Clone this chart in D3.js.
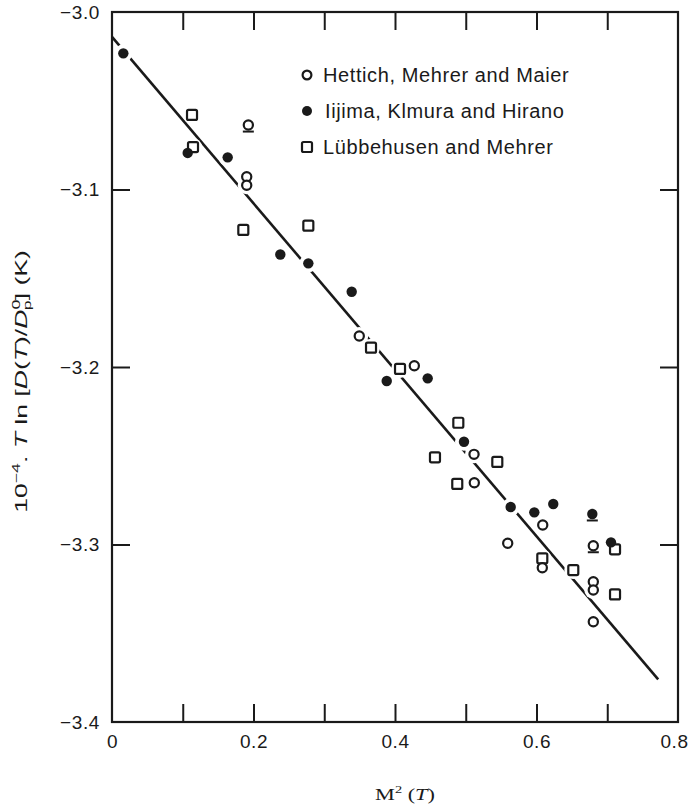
<!DOCTYPE html>
<html>
<head>
<meta charset="utf-8">
<script src="https://cdn.jsdelivr.net/npm/d3@7"></script>
<style>
  html, body { margin: 0; padding: 0; background: #fff; }
  svg { display: block; }
</style>
</head>
<body>
<svg id="chart" width="691" height="806"></svg>
<script>
// Hettich, Mehrer and Maier (open circles)
const hettich = [
  [0.1927, -3.0637], [0.1904, -3.0928], [0.1904, -3.0976], [0.3495, -3.1825],
  [0.4273, -3.1993], [0.5117, -3.2492], [0.5121, -3.2652], [0.6088, -3.2890],
  [0.5593, -3.2993], [0.6803, -3.3007], [0.6082, -3.3131], [0.6803, -3.3210],
  [0.6803, -3.3256], [0.6803, -3.3435]
];
// Iijima, Kimura and Hirano (filled circles)
const iijima = [
  [0.0160, -3.0233], [0.1070, -3.0794], [0.1635, -3.0819], [0.2379, -3.1366],
  [0.2775, -3.1416], [0.3388, -3.1576], [0.3883, -3.2079], [0.4462, -3.2064],
  [0.4975, -3.2421], [0.5635, -3.2789], [0.5969, -3.2819], [0.6237, -3.2772],
  [0.6789, -3.2828], [0.7053, -3.2988]
];
// Lübbehusen and Mehrer (open squares)
const luebbehusen = [
  [0.1131, -3.0580], [0.1145, -3.0761], [0.1856, -3.1228], [0.2775, -3.1204],
  [0.3661, -3.1891], [0.4071, -3.2011], [0.4565, -3.2509], [0.4895, -3.2314],
  [0.4880, -3.2659], [0.5446, -3.2535], [0.6082, -3.3078], [0.6520, -3.3144],
  [0.7110, -3.3027], [0.7110, -3.3281]
];
// points carrying an extra bar mark beneath them
const barMarks = [[0.1927, -3.0637], [0.6803, -3.3007], [0.6789, -3.2828]];
// fitted straight line
const fitLine = [[0.0, -3.014], [0.772, -3.376]];

const legendLabels = ["Hettich, Mehrer and Maier", "Iijima, Klmura and Hirano", "Lübbehusen and Mehrer"];
const xLabelTicks = [0, 0.2, 0.4, 0.6, 0.8];
const xMinorTicks = [0.1, 0.2, 0.3, 0.4, 0.5, 0.6, 0.7];
const yLabelTicks = [-3.0, -3.1, -3.2, -3.3, -3.4];
const yInnerTicks = [-3.1, -3.2, -3.3];

(function draw() {
  const svg = d3.select("#chart");
  const mLeft = 112, mRight = 678, mTop = 12, mBottom = 722;
  const x = d3.scaleLinear().domain([0, 0.8]).range([mLeft, mRight]);
  const y = d3.scaleLinear().domain([-3.0, -3.4]).range([mTop, mBottom]);
  const ink = "#1a1a1a";
  const sans = "'Liberation Sans', Arial, Helvetica, sans-serif";

  // axes with inward ticks on all four sides
  const tickLen = 18;
  function styleAxis(g) {
    g.select(".domain").remove();
    g.selectAll(".tick line").attr("stroke", ink).attr("stroke-width", 2);
    g.selectAll(".tick text").attr("fill", ink).attr("font-family", sans)
      .attr("font-size", 19).attr("letter-spacing", 0.6);
  }
  svg.append("g").attr("transform", `translate(0,${mBottom})`)
    .call(d3.axisBottom(x).tickValues(xMinorTicks).tickSize(-tickLen).tickFormat(""))
    .call(styleAxis);
  const xLab = svg.append("g").attr("transform", `translate(0,${mBottom})`)
    .call(d3.axisBottom(x).tickValues(xLabelTicks).tickSize(0).tickPadding(13)
      .tickFormat(d => d === 0 ? "0" : d3.format(".1f")(d)))
    .call(styleAxis);
  // keep the last label inside the page edge
  xLab.selectAll(".tick text").filter(d => d === 0.8).attr("dx", -4);
  svg.append("g").attr("transform", `translate(0,${mTop})`)
    .call(d3.axisTop(x).tickValues(xMinorTicks).tickSize(-tickLen).tickFormat(""))
    .call(styleAxis);
  svg.append("g").attr("transform", `translate(${mLeft},0)`)
    .call(d3.axisLeft(y).tickValues(yInnerTicks).tickSize(-tickLen).tickFormat(""))
    .call(styleAxis);
  svg.append("g").attr("transform", `translate(${mLeft},0)`)
    .call(d3.axisLeft(y).tickValues(yLabelTicks).tickSize(0).tickPadding(12)
      .tickFormat(d => d3.format(".1f")(d).replace("-", "\u2212")))
    .call(styleAxis);
  svg.append("g").attr("transform", `translate(${mRight},0)`)
    .call(d3.axisRight(y).tickValues(yInnerTicks).tickSize(-tickLen).tickFormat(""))
    .call(styleAxis);

  // frame
  svg.append("rect")
    .attr("x", mLeft).attr("y", mTop).attr("width", mRight - mLeft).attr("height", mBottom - mTop)
    .attr("fill", "none").attr("stroke", ink).attr("stroke-width", 2.2);

  // fitted line
  svg.append("line")
    .attr("x1", x(fitLine[0][0])).attr("y1", y(fitLine[0][1]))
    .attr("x2", x(fitLine[1][0])).attr("y2", y(fitLine[1][1]))
    .attr("stroke", ink).attr("stroke-width", 2.6);

  // white clearance around every symbol, so the line breaks at the points
  const allPts = hettich.concat(iijima, luebbehusen);
  svg.append("g").selectAll("circle").data(allPts).join("circle")
    .attr("cx", d => x(d[0])).attr("cy", d => y(d[1])).attr("r", 9).attr("fill", "#fff");

  const marks = svg.append("g");
  marks.selectAll("rect.sq").data(luebbehusen).join("rect").attr("class", "sq")
    .attr("x", d => x(d[0]) - 5).attr("y", d => y(d[1]) - 5)
    .attr("width", 10).attr("height", 10).attr("rx", 1.5)
    .attr("fill", "#fff").attr("stroke", ink).attr("stroke-width", 2.2);
  marks.selectAll("circle.op").data(hettich).join("circle").attr("class", "op")
    .attr("cx", d => x(d[0])).attr("cy", d => y(d[1])).attr("r", 4.6)
    .attr("fill", "#fff").attr("stroke", ink).attr("stroke-width", 2.2);
  marks.selectAll("circle.fl").data(iijima).join("circle").attr("class", "fl")
    .attr("cx", d => x(d[0])).attr("cy", d => y(d[1])).attr("r", 5.2)
    .attr("fill", ink);
  marks.selectAll("line.bar").data(barMarks).join("line").attr("class", "bar")
    .attr("x1", d => x(d[0]) - 5.5).attr("x2", d => x(d[0]) + 5.5)
    .attr("y1", d => y(d[1]) + 6.5).attr("y2", d => y(d[1]) + 6.5)
    .attr("stroke", ink).attr("stroke-width", 2);

  // legend
  const legend = svg.append("g").attr("transform", "translate(307,75)");
  const rowGap = 36;
  legend.append("circle").attr("cx", 0).attr("cy", 0).attr("r", 4.4)
    .attr("fill", "#fff").attr("stroke", ink).attr("stroke-width", 2.2);
  legend.append("circle").attr("cx", 0).attr("cy", rowGap).attr("r", 5).attr("fill", ink);
  legend.append("rect").attr("x", -5).attr("y", 2 * rowGap - 5).attr("width", 10).attr("height", 10).attr("rx", 1.5)
    .attr("fill", "#fff").attr("stroke", ink).attr("stroke-width", 2.2);
  legend.selectAll("text").data(legendLabels).join("text")
    .attr("x", (d, i) => i === 1 ? 18 : 16).attr("y", (d, i) => i * rowGap)
    .attr("dy", "0.36em").attr("font-family", sans).attr("font-size", 20)
    .attr("letter-spacing", 0.6).attr("fill", ink)
    .text(d => d);

  // stretch a title along its reading direction to a given length
  function fitLength(sel, base, target) {
    const w = sel.node().getBBox().width;
    sel.attr("transform", `${base} scale(${target / w},1)`);
  }

  // x axis title
  const xt = svg.append("text").attr("text-anchor", "middle")
    .attr("font-family", "'Liberation Serif', 'Times New Roman', serif").attr("font-size", 17).attr("fill", ink);
  xt.append("tspan").text("M");
  xt.append("tspan").attr("dy", -7).attr("font-size", 11).text("2");
  xt.append("tspan").attr("dy", 7).text(" (");
  xt.append("tspan").attr("font-style", "italic").text("T");
  xt.append("tspan").text(")");
  fitLength(xt, "translate(405,800)", 60);

  // y axis title
  const yt = svg.append("text")
    .attr("text-anchor", "middle").attr("font-family", sans).attr("font-size", 16.5).attr("fill", ink);
  yt.append("tspan").text("10");
  yt.append("tspan").attr("dy", -7).attr("font-size", 11).text("\u22124");
  yt.append("tspan").attr("dy", 7).text(". ");
  yt.append("tspan").attr("font-style", "italic").text("T");
  yt.append("tspan").text(" ln [");
  yt.append("tspan").attr("font-style", "italic").text("D");
  yt.append("tspan").text("(");
  yt.append("tspan").attr("font-style", "italic").text("T");
  yt.append("tspan").text(")/");
  yt.append("tspan").attr("font-style", "italic").text("D");
  yt.append("tspan").attr("dy", -7).attr("font-size", 11).text("0");
  yt.append("tspan").attr("dx", -6.5).attr("dy", 11).attr("font-size", 11).text("p");
  yt.append("tspan").attr("dy", -4).text("] (K)");
  fitLength(yt, "translate(27,381.5) rotate(-90)", 263);
})();
</script>
</body>
</html>
